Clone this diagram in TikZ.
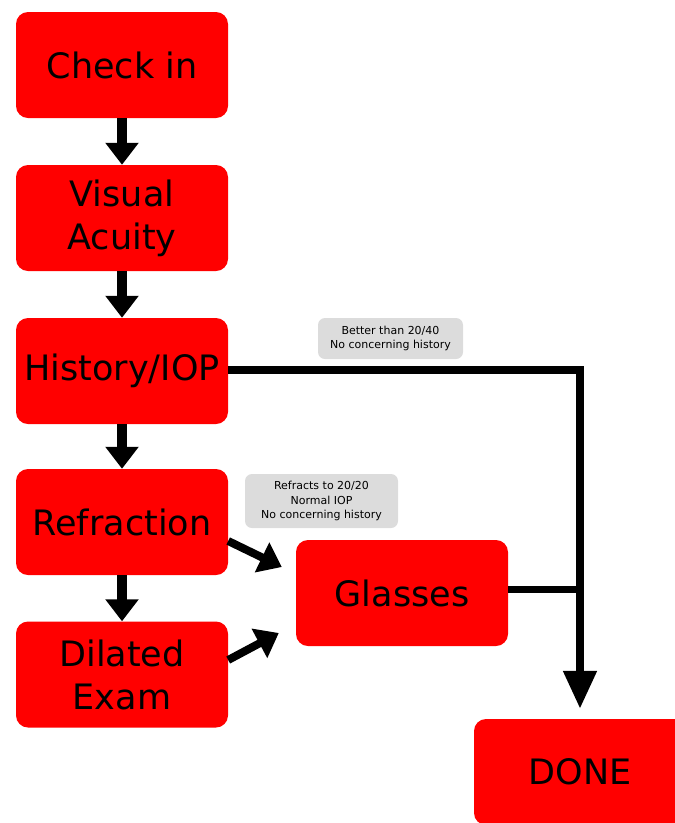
\documentclass[tikz,border=0pt]{standalone}
\usepackage{fontspec}
\setmainfont{DejaVu Sans}
\usetikzlibrary{arrows.meta,calc}
\definecolor{boxred}{RGB}{255,0,0}
\definecolor{notegrey}{RGB}{220,220,220}
\tikzset{
  stepbox/.style={fill=boxred, draw=none, rounded corners=12pt, minimum width=212pt, minimum height=106pt, inner sep=0pt, align=center, font=\fontsize{35}{43}\selectfont},
  note/.style={fill=notegrey, draw=none, rounded corners=7pt, inner sep=0pt, align=center, font=\fontsize{11}{14.3}\selectfont},
  flow/.style={line width=10pt, -{Triangle[width=32pt,length=22pt]}},
}
\begin{document}
\begin{tikzpicture}[x=1pt,y=-1pt]
\useasboundingbox (0,0) rectangle (675,823);
\clip (0,0) rectangle (675,823);
\node[stepbox] (check) at (122,65) {Check in};
\node[stepbox] (visual) at (122,218) {Visual\\Acuity};
\node[stepbox] (hist) at (122,371) {History/IOP};
\node[stepbox] (refr) at (122,522) {Refraction};
\node[stepbox] (dil) at (122,674.5) {Dilated\\Exam};
\node[stepbox] (gl) at (402,593) {Glasses};
\node[stepbox] (done) at (580,772) {DONE};
\node[note, minimum width=145pt, minimum height=41pt] (n1) at (390.5,338.5) {Better than 20/40\\No concerning history};
\node[note, minimum width=153pt, minimum height=54pt] (n2) at (321.5,501) {Refracts to 20/20\\Normal IOP\\No concerning history};
\draw[flow] (check) -- (visual);
\draw[flow] (visual) -- (hist);
\draw[flow] (hist) -- (refr);
\draw[flow] (refr) -- (dil);
\draw[line width=8pt, -{Triangle[width=32pt,length=38pt]}, shorten >=10pt] ([yshift=1pt]hist.east) -| (done.north);
\draw[line width=7pt] ([yshift=4pt]gl.east) -- ([yshift=4pt]gl.east -| done.north);
\draw[flow, line width=8pt] ([yshift=-19pt]refr.east) -- ([xshift=-14pt,yshift=26pt]gl.west);
\draw[flow, line width=8pt] ([yshift=14.5pt]dil.east) -- ([xshift=-17pt,yshift=-40pt]gl.west);
\end{tikzpicture}
\end{document}
